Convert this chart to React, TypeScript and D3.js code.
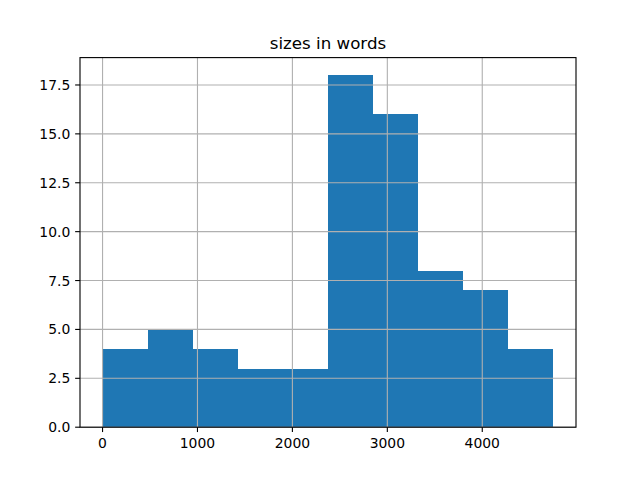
import React from "react";
import * as d3 from "d3";

const title = "sizes in words";
const binEdges = [0, 475, 950, 1425, 1900, 2375, 2850, 3325, 3800, 4275, 4750];
const counts = [4, 5, 4, 3, 3, 18, 16, 8, 7, 4];
const xTicks = [0, 1000, 2000, 3000, 4000];
const yTicks = [0, 2.5, 5, 7.5, 10, 12.5, 15, 17.5];

export default function App() {
  const W = 640, H = 480;
  const left = 80, right = 576, top = 57.6, bottom = 427.2;
  const lo = binEdges[0], hi = binEdges[binEdges.length - 1];
  const pad = (hi - lo) * 0.05;
  const x = d3.scaleLinear().domain([lo - pad, hi + pad]).range([left, right]);
  const ymax = (d3.max(counts) as number) * 1.05;
  const y = d3.scaleLinear().domain([0, ymax]).range([bottom, top]);
  const lw = 1.11;
  const tickLen = 4.86;
  const font = "DejaVu Sans, sans-serif";
  return (
    <svg width={W} height={H} style={{ position: "absolute", left: 0, top: 0 }}>
      <rect width={W} height={H} fill="#fff" />
      {counts.map((c, i) => (
        <rect
          key={i}
          x={x(binEdges[i])}
          y={y(c)}
          width={x(binEdges[i + 1]) - x(binEdges[i])}
          height={y(0) - y(c)}
          fill="#1f77b4"
          shapeRendering="crispEdges"
        />
      ))}
      {xTicks.map((t) => (
        <line key={"gx" + t} x1={x(t)} x2={x(t)} y1={top} y2={bottom} stroke="#b0b0b0" strokeWidth={lw} />
      ))}
      {yTicks.map((t) => (
        <line key={"gy" + t} x1={left} x2={right} y1={y(t)} y2={y(t)} stroke="#b0b0b0" strokeWidth={lw} />
      ))}
      <rect x={left} y={top} width={right - left} height={bottom - top} fill="none" stroke="#000" strokeWidth={lw} />
      {xTicks.map((t) => (
        <g key={"tx" + t}>
          <line x1={x(t)} x2={x(t)} y1={bottom} y2={bottom + tickLen} stroke="#000" strokeWidth={lw} />
          <text x={x(t)} y={bottom + tickLen + 4.86 + 11} fontSize={13.9} fontFamily={font} textAnchor="middle" fill="#000">
            {t}
          </text>
        </g>
      ))}
      {yTicks.map((t) => (
        <g key={"ty" + t}>
          <line x1={left - tickLen} x2={left} y1={y(t)} y2={y(t)} stroke="#000" strokeWidth={lw} />
          <text x={left - tickLen - 4.86} y={y(t) + 5} fontSize={13.9} fontFamily={font} textAnchor="end" fill="#000">
            {t.toFixed(1)}
          </text>
        </g>
      ))}
      <text x={(left + right) / 2} y={top - 8.3} fontSize={16.67} fontFamily={font} textAnchor="middle" fill="#000">
        {title}
      </text>
    </svg>
  );
}
